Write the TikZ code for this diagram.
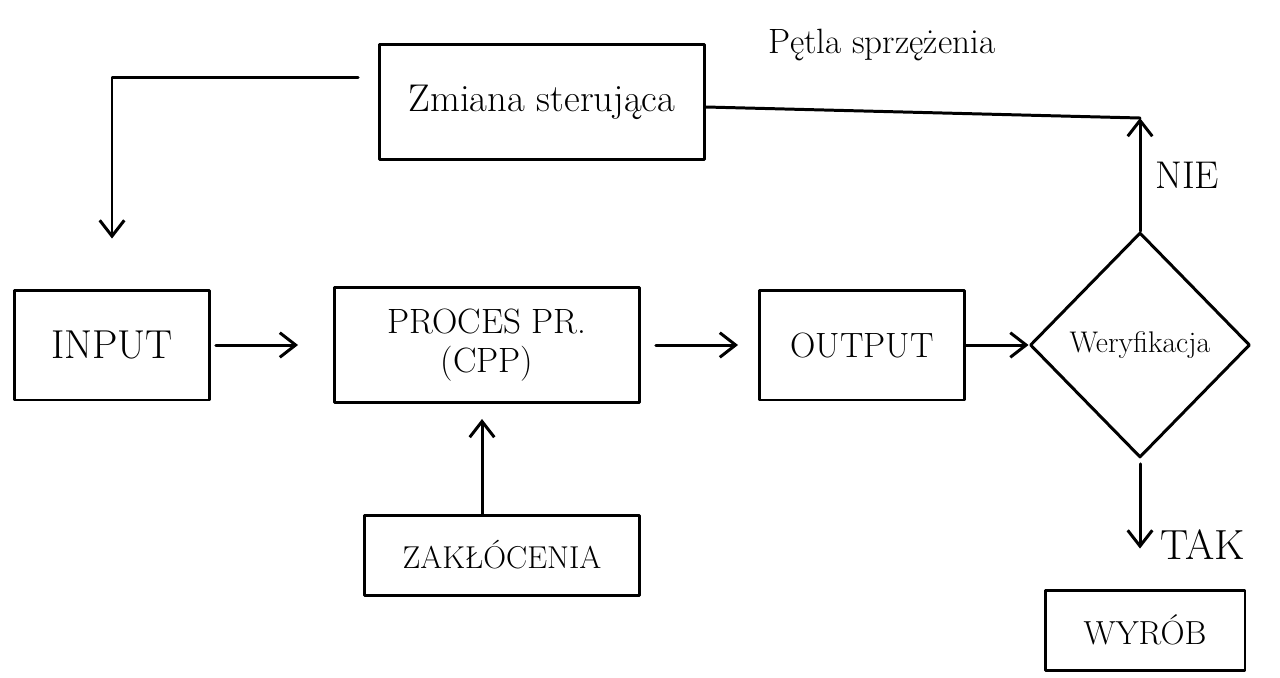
\documentclass[tikz,border=0pt]{standalone}
\usetikzlibrary{arrows.meta,shapes.geometric}
\begin{document}
\begin{tikzpicture}[x=0.02cm,y=-0.02cm,
  ink/.style={line width=1.7pt, line cap=round, line join=round},
  box/.style={ink, draw, rectangle, inner sep=2pt, font=\fontsize{20}{24}\selectfont, align=center},
  conn/.style={ink, -{Straight Barb[length=9pt,width=14pt,line width=1.7pt]}},
  lbl/.style={font=\fontsize{20}{24}\selectfont, inner sep=0pt}]
\useasboundingbox (0,0) rectangle (1280,677);
\fill[white] (0,0) rectangle (1280,677);

\node[box, minimum width=6.5cm, minimum height=2.3cm, font=\fontsize{22}{26}\selectfont] (zm) at (542,102) {Zmiana sterująca};
\node[box, minimum width=3.9cm, minimum height=2.2cm, font=\fontsize{23}{27}\selectfont] (in) at (112,345) {INPUT};
\node[box, minimum width=6.1cm, minimum height=2.3cm] (pr) at (487,345) {PROCES PR.\\[-2pt](CPP)};
\node[box, minimum width=4.1cm, minimum height=2.2cm] (out) at (862,345) {OUTPUT};
\node[ink, draw, diamond, minimum width=4.4cm, minimum height=4.5cm, inner sep=0pt, font=\fontsize{17}{20}\selectfont] (dec) at (1140,345) {Weryfikacja};
\node[box, minimum width=5.5cm, minimum height=1.6cm, font=\fontsize{18}{22}\selectfont] (zak) at (502,555) {ZAKŁÓCENIA};
\node[box, minimum width=4cm, minimum height=1.6cm, font=\fontsize{19}{23}\selectfont] (wyr) at (1145,630) {WYRÓB};

\node[lbl] (petla) at (882,45) {Pętla sprzężenia};
\node[lbl, anchor=west, font=\fontsize{22}{26}\selectfont] (nie) at (1155,175) {NIE};
\node[lbl, anchor=west, font=\fontsize{24}{28}\selectfont] (tak) at (1160,545) {TAK};

\coordinate (c1) at (1140,118);
\coordinate (zx) at (482,0);

% connectors
\draw[conn, shorten <=0.4cm, shorten >=1cm] ([yshift=0.5cm]zm.west) -| (in.north);
\draw[conn, shorten <=0.1cm, shorten >=0.7cm] (in.east) -- (pr.west);
\draw[conn, shorten <=0.3cm, shorten >=0.4cm] (pr.east) -- (out.west);
\draw[conn] (out.east) -- (dec.west);
\draw[conn] (dec.north) -- (c1);
\draw[ink] (c1) -- ([yshift=-0.1cm]zm.east);
\draw[conn, shorten >=0.3cm] (zak.north -| zx) -- (pr.south -| zx);
\draw[conn, shorten <=0.1cm, shorten >=0.8cm] (dec.south) -- (wyr.north -| dec.south);
\end{tikzpicture}
\end{document}
